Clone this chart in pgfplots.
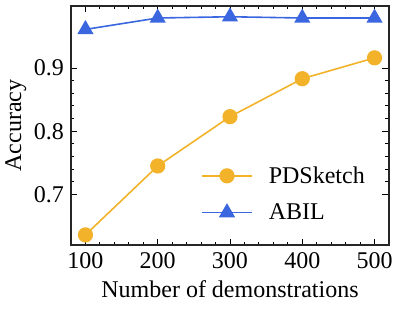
\documentclass[border=0pt]{standalone}
\usepackage{fontspec}
\setmainfont{Liberation Serif}
\usepackage{pgfplots}
\pgfplotsset{compat=1.18}
\definecolor{porange}{HTML}{F2B32B}
\definecolor{pblue}{HTML}{3A66E0}
\newcommand{\tickf}{\rmfamily\fontsize{24}{28}\selectfont}
\newcommand{\labf}{\rmfamily\fontsize{24}{28}\selectfont}
\newcommand{\legf}{\rmfamily\fontsize{24}{28}\selectfont}
\begin{document}
\begin{tikzpicture}
\useasboundingbox (-71pt,-63pt) rectangle (328pt,245pt);
\begin{axis}[
  at={(0,0)}, anchor=south west,
  scale only axis, width=318pt, height=239pt,
  xmin=80, xmax=520, ymin=0.62, ymax=0.998,
  xtick={100,200,300,400,500}, ytick={0.7,0.8,0.9},
  xticklabels={100,200,300,400,500},
  yticklabels={0.7,0.8,0.9},
  minor x tick num=4, minor y tick num=4,
  tick align=inside, xtick pos=both, ytick pos=both,
  xticklabel pos=bottom, yticklabel pos=left,
  major tick length=6.5pt, minor tick length=3.5pt,
  every tick/.style={black, line width=0.9pt},
  axis line style={line width=1.1pt, black!85},
  xticklabel style={font=\tickf, anchor=base, inner sep=0pt, yshift=-23pt},
  yticklabel style={font=\tickf, anchor=east, inner sep=0pt, xshift=-7pt},
  xlabel={Number of demonstrations}, ylabel={Accuracy},
  xlabel style={font=\labf, at={(axis description cs:0.5,0)}, anchor=base, inner sep=0pt, yshift=-52pt},
  ylabel style={font=\labf, at={(axis description cs:-0.1572,0.5)}, anchor=base, inner sep=0pt},
  legend style={draw=none, fill=none, at={(0.9245,0.2134)}, anchor=east, inner sep=0pt,
    nodes={inner sep=0pt, font=\legf}, row sep=19pt, column sep=16pt},
  legend cell align=left,
  legend image code/.code={\draw[mark repeat=2,mark phase=2,#1] plot coordinates {(0pt,0pt)(25pt,0pt)(50pt,0pt)};},
]
\addplot[porange, line width=1.6pt, mark=*, mark size=6.8pt, mark options={solid, fill=porange, draw=porange}] coordinates {
  (100,0.636) (200,0.745) (300,0.823) (400,0.883) (500,0.916)
};
\addlegendentry{PDSketch}
\addplot[pblue, line width=1.6pt, mark=triangle*, mark size=7.8pt, mark options={solid, fill=pblue, draw=pblue}] coordinates {
  (100,0.961) (200,0.979) (300,0.981) (400,0.979) (500,0.979)
};
\addlegendentry{ABIL}
\end{axis}
\end{tikzpicture}
\end{document}
